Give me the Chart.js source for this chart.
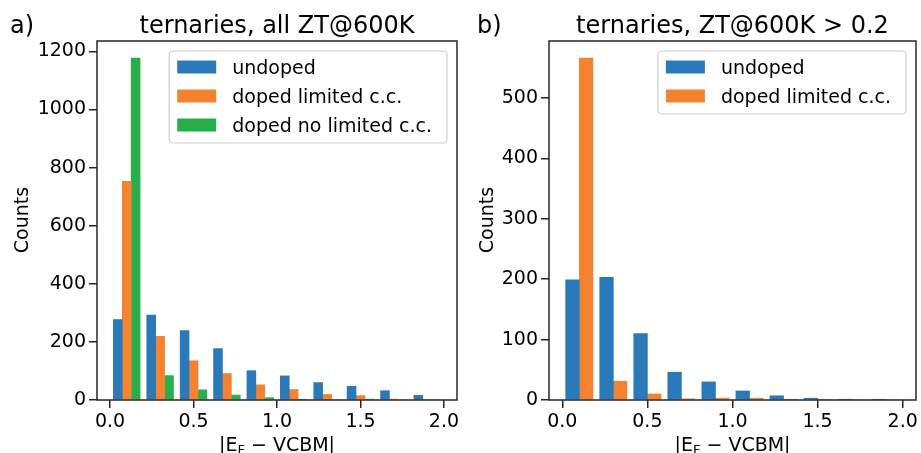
<!DOCTYPE html>
<html>
<head>
<meta charset="utf-8">
<script src="https://cdn.jsdelivr.net/npm/chart.js@4.4.1/dist/chart.umd.min.js"></script>
<style>
  body { margin: 0; background: #fff; font-family: "DejaVu Sans", sans-serif; color: #000; }
  #wrap { position: relative; width: 921px; height: 453px; overflow: hidden; }
  canvas { position: absolute; top: 0; }
  .txt { position: absolute; white-space: nowrap; }
  .title { font-size: 24px; line-height: 28px; top: 11px; text-align: center; }
  .panel { font-size: 24px; line-height: 28px; top: 11px; }
  .ylab { font-size: 19px; line-height: 22px; width: 100px; text-align: center; transform: rotate(-90deg); }
  .xlab { font-size: 19px; line-height: 22px; top: 433px; text-align: center; }
  .xlab sub { font-size: 13px; vertical-align: -3px; line-height: 0; }
</style>
</head>
<body>
<div id="wrap">
  <canvas id="histA" width="470" height="453" style="left:0px"></canvas>
  <canvas id="histB" width="451" height="453" style="left:470px"></canvas>

  <div class="txt panel" style="left:10px">a)</div>
  <div class="txt title" style="left:97px;width:360px">ternaries, all ZT@600K</div>
  <div class="txt ylab" style="left:-29px;top:209px">Counts</div>
  <div class="txt xlab" style="left:97px;width:360px">|E<sub>F</sub> − VCBM|</div>

  <div class="txt panel" style="left:477px">b)</div>
  <div class="txt title" style="left:549px;width:367px">ternaries, ZT@600K &gt; 0.2</div>
  <div class="txt ylab" style="left:436px;top:209px">Counts</div>
  <div class="txt xlab" style="left:549px;width:367px">|E<sub>F</sub> − VCBM|</div>
</div>

<script>
// histogram bins and axis ticks
var binEdges = [0.0, 0.2, 0.4, 0.6, 0.8, 1.0, 1.2, 1.4, 1.6, 1.8, 2.0];
var xTicks = [0.0, 0.5, 1.0, 1.5, 2.0];

// a) ternaries, all ZT@600K
var labelsA = ['undoped', 'doped limited c.c.', 'doped no limited c.c.'];
var undopedA = [277, 292, 239, 177, 101, 83, 60, 47, 32, 16];
var dopedLimA = [753, 219, 135, 91, 52, 36, 19, 15, 3, 0];
var dopedNoLimA = [1177, 84, 35, 17, 8, 2, 0, 3, 0, 0];
var yTicksA = [0, 200, 400, 600, 800, 1000, 1200];

// b) ternaries, ZT@600K > 0.2
var labelsB = ['undoped', 'doped limited c.c.'];
var undopedB = [199, 203, 110, 46, 30, 15, 7, 3, 1, 1];
var dopedLimB = [566, 31, 10, 2, 3, 3, 1, 1, 0, 0];
var yTicksB = [0, 100, 200, 300, 400, 500];

var colors = ['#2a7ab9', '#f5822f', '#29ae4c'];
var axisColor = '#262626';

// bar centres the way matplotlib places side by side hist bars (80% of bin)
function histBars(counts, k, n) {
    var pts = [];
    for (var i = 0; i < counts.length; i++) {
        var w = binEdges[i + 1] - binEdges[i];
        var bw = 0.8 * w / n;
        pts.push({ x: binEdges[i] + 0.1 * w + bw * (k + 0.5), y: counts[i] });
    }
    return pts;
}

// box frame + matplotlib style legend
var frameLegend = {
    id: 'frameLegend',
    afterDatasetsDraw: function (chart) {
        var a = chart.chartArea, ctx = chart.ctx;
        ctx.save();
        ctx.strokeStyle = axisColor;
        ctx.lineWidth = 1.5;
        ctx.strokeRect(a.left, a.top, a.right - a.left, a.bottom - a.top);

        var ds = chart.data.datasets;
        ctx.font = '19px "DejaVu Sans"';
        var textW = 0;
        ds.forEach(function (d) { textW = Math.max(textW, ctx.measureText(d.label).width); });
        var boxW = 8 + 39 + 16 + textW + 15;
        var boxH = 16 + (ds.length - 1) * 29 + 18;
        var right = a.right - 10, top = a.top + 10, left = right - boxW;

        ctx.beginPath();
        ctx.roundRect(left, top, boxW, boxH, 4);
        ctx.fillStyle = 'rgba(255,255,255,0.8)';
        ctx.fill();
        ctx.strokeStyle = '#cccccc';
        ctx.lineWidth = 1.2;
        ctx.stroke();

        ds.forEach(function (d, i) {
            var cy = top + 16 + i * 29;
            ctx.fillStyle = d.backgroundColor;
            ctx.fillRect(left + 8, cy - 6.5, 39, 13);
            ctx.fillStyle = '#000';
            ctx.textBaseline = 'alphabetic';
            ctx.fillText(d.label, left + 8 + 39 + 16, cy + 6.5);
        });
        ctx.restore();
    }
};

function makeHist(id, labels, series, yTicks, yWidth, padRight) {
    var n = series.length;
    var datasets = series.map(function (s, k) {
        return {
            label: labels[k],
            data: histBars(s, k, n),
            backgroundColor: colors[k],
            borderWidth: 0,
            grouped: false,
            barPercentage: 1,
            categoryPercentage: 1
        };
    });

    var w0 = binEdges[1] - binEdges[0];
    var wN = binEdges[binEdges.length - 1] - binEdges[binEdges.length - 2];
    var lo = binEdges[0] + 0.1 * w0, hi = binEdges[binEdges.length - 1] - 0.1 * wN;
    var pad = 0.05 * (hi - lo);
    var yMax = 0;
    series.forEach(function (s) { yMax = Math.max(yMax, Math.max.apply(null, s)); });

    var tickFont = { family: 'DejaVu Sans', size: 19 };

    return new Chart(document.getElementById(id).getContext('2d'), {
        type: 'bar',
        data: { datasets: datasets },
        options: {
            responsive: false,
            animation: false,
            devicePixelRatio: 1,
            layout: { padding: { top: 41, right: padRight, left: 0, bottom: 0 } },
            plugins: { legend: { display: false }, tooltip: { enabled: false } },
            scales: {
                x: {
                    type: 'linear',
                    offset: false,
                    min: lo - pad,
                    max: hi + pad,
                    afterBuildTicks: function (s) { s.ticks = xTicks.map(function (v) { return { value: v }; }); },
                    afterFit: function (s) { s.height = 53; },
                    ticks: { font: tickFont, color: '#000', padding: 3, maxRotation: 0,
                             callback: function (v) { return v.toFixed(1); } },
                    grid: { offset: false, drawOnChartArea: false, drawTicks: true, tickLength: 8,
                            color: axisColor, lineWidth: 1.5 },
                    border: { display: false }
                },
                y: {
                    min: 0,
                    max: yMax * 1.05,
                    afterBuildTicks: function (s) { s.ticks = yTicks.map(function (v) { return { value: v }; }); },
                    afterFit: function (s) { s.width = yWidth; },
                    ticks: { font: tickFont, color: '#000', padding: 3,
                             callback: function (v) { return String(v); } },
                    grid: { drawOnChartArea: false, drawTicks: true, tickLength: 8,
                            color: axisColor, lineWidth: 1.5 },
                    border: { display: false }
                }
            }
        },
        plugins: [frameLegend]
    });
}

makeHist('histA', labelsA, [undopedA, dopedLimA, dopedNoLimA], yTicksA, 97, 13);
makeHist('histB', labelsB, [undopedB, dopedLimB], yTicksB, 79, 5);
</script>
</body>
</html>
